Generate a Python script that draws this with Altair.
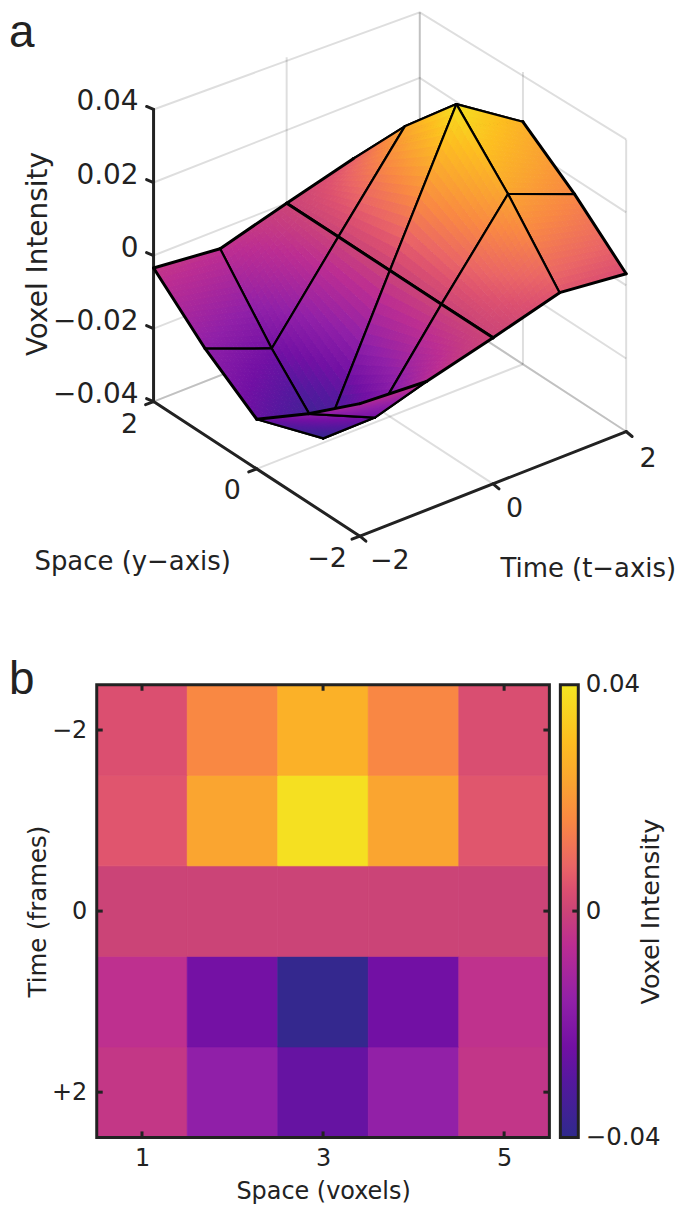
import altair as alt
import pandas as pd

# Surface heights, rows t=-2..2, columns y=2..-2
T_VALUES = [-2, -1, 0, 1, 2]
Y_VALUES = [2, 1, 0, -1, -2]
Z_T_M2 = [-0.0034, -0.0163, -0.0264, -0.0157, -0.0037]
Z_T_M1 = [-0.0053, -0.0234, -0.0388, -0.0239, -0.0048]
Z_T_0 = [0.0, 0.0, 0.0, 0.0, 0.0]
Z_T_P1 = [0.0050, 0.0231, 0.0384, 0.0230, 0.0052]
Z_T_P2 = [0.0038, 0.0160, 0.0264, 0.0158, 0.0032]
SURFACE = [Z_T_M2, Z_T_M1, Z_T_0, Z_T_P1, Z_T_P2]

# Colormap
CMAP_VALUES = [-0.04, -0.03, -0.024, -0.016, -0.006, 0.0, 0.004, 0.008, 0.016, 0.023, 0.03, 0.04]
CMAP_COLORS = ["#2f2a8c", "#55189e", "#7210a4", "#9120a8", "#bc2d92", "#cb4477",
               "#dc5070", "#ea6566", "#f98843", "#faa530", "#fdbe20", "#f3e621"]

Z_TICKS = [-0.04, -0.02, 0, 0.02, 0.04]
Z_TICK_LABELS = ["−0.04", "−0.02", "0", "0.02", "0.04"]
HEAT_X_TICKS = [1, 3, 5]
HEAT_Y_TICKS = [-2, 0, 2]

FONT = "DejaVu Sans"
INK = "#222222"
OX, OY = 96, 8          # page position of the panel a origin
W_A, H_A = 570, 648
W_B, H_B = 454, 454
W_BAR = 18


def project(t, y, z):
    """Orthographic view of the 3-D box, in panel pixels."""
    px = 360 + 66.75 * (t + 2) - 51.75 * (y + 2) - OX
    py = 535 - 26.25 * (t + 2) - 33.75 * (y + 2) - 3662.5 * (z + 0.04) - OY
    return [round(px, 2), round(max(py, 1.5), 2)]


def line_feature(points, width):
    return {"type": "Feature", "properties": {"w": width, "z": 0},
            "geometry": {"type": "LineString", "coordinates": points}}


# ---------- box: grid, walls, axes ----------
grid = []
for z in Z_TICKS:
    grid.append(line_feature([project(-2, 2, z), project(2, 2, z), project(2, -2, z)], 2))
for t in [-2, 0, 2]:
    grid.append(line_feature([project(t, 2, -0.04), project(t, 2, 0.04)], 2))
for y in [2, 0, -2]:
    grid.append(line_feature([project(2, y, -0.04), project(2, y, 0.04)], 2))
for t in [0, 2]:
    grid.append(line_feature([project(t, 2, -0.04), project(t, -2, -0.04)], 2))
for y in [2, 0]:
    grid.append(line_feature([project(-2, y, -0.04), project(2, y, -0.04)], 2))

axes = [
    line_feature([project(-2, 2, -0.04), project(-2, 2, 0.04)], 3),
    line_feature([project(-2, 2, -0.04), project(-2, -2, -0.04)], 3),
    line_feature([project(-2, -2, -0.04), project(2, -2, -0.04)], 3),
]
for z in Z_TICKS:
    a = project(-2, 2, z)
    axes.append(line_feature([a, [a[0] - 7, a[1] - 3]], 3))
for y in [2, 0, -2]:
    a = project(-2, y, -0.04)
    axes.append(line_feature([a, [a[0] - 8, a[1] + 3]], 3))
for t in [-2, 0, 2]:
    a = project(t, -2, -0.04)
    axes.append(line_feature([a, [a[0] + 6, a[1] + 5]], 3))

# ---------- surface, painted back to front, with interpolated shading ----------
N = 16
surface = []
for it in range(3, -1, -1):
    for iy in range(0, 4):
        t0, t1 = T_VALUES[it], T_VALUES[it + 1]
        y0, y1 = Y_VALUES[iy], Y_VALUES[iy + 1]
        z00, z01 = SURFACE[it][iy], SURFACE[it][iy + 1]
        z10, z11 = SURFACE[it + 1][iy], SURFACE[it + 1][iy + 1]

        def blend(u, v):
            z = (z00 * (1 - u) * (1 - v) + z01 * (1 - u) * v
                 + z10 * u * (1 - v) + z11 * u * v)
            return t0 + (t1 - t0) * u, y0 + (y1 - y0) * v, z

        for i in range(N - 1, -1, -1):
            for j in range(N):
                us = [i / N, (i + 1) / N]
                vs = [j / N, (j + 1) / N]
                ring = [project(*blend(us[0], vs[0])), project(*blend(us[1], vs[0])),
                        project(*blend(us[1], vs[1])), project(*blend(us[0], vs[1]))]
                ring.append(ring[0])
                zc = blend((i + 0.5) / N, (j + 0.5) / N)[2]
                surface.append({"type": "Feature", "properties": {"w": 1, "z": round(zc, 5)},
                                "geometry": {"type": "Polygon", "coordinates": [ring]}})
        for (ta, ya, za, tb, yb, zb) in [
            (t1, y0, z10, t1, y1, z11), (t0, y0, z00, t1, y0, z10),
            (t0, y1, z01, t1, y1, z11), (t0, y0, z00, t0, y1, z01),
        ]:
            thick = (ta == tb and ta in (0, -2, 2)) or (ya == yb and ya in (2, -2))
            surface.append(line_feature([project(ta, ya, za), project(tb, yb, zb)],
                                        3.0 if thick else 2.2))

identity = dict(type="identity", scale=1, translate=[0, 0])
color_scale = alt.Scale(domain=CMAP_VALUES, range=CMAP_COLORS, interpolate="rgb", clamp=True)

grid_layer = alt.Chart(alt.Data(values=grid)).mark_geoshape(
    fillOpacity=0, stroke="#000000", strokeOpacity=0.13, strokeWidth=2).project(**identity)
axes_layer = alt.Chart(alt.Data(values=axes)).mark_geoshape(
    fillOpacity=0, stroke=INK, strokeWidth=3, strokeCap="round").project(**identity)
is_line = "datum.properties.w > 1"
surface_layer = alt.Chart(alt.Data(values=surface)).mark_geoshape(
    strokeJoin="round", strokeCap="round").encode(
    fill=alt.condition(is_line, alt.value("transparent"),
                       alt.Fill("properties.z:Q", scale=color_scale, legend=None)),
    stroke=alt.condition(is_line, alt.value("#000000"),
                         alt.Stroke("properties.z:Q", scale=color_scale, legend=None)),
    strokeWidth=alt.StrokeWidth("properties.w:Q", scale=None),
).project(**identity)

# ---------- panel a texts (positions given on the page) ----------
px = alt.X("x:Q", scale=alt.Scale(domain=[-OX, W_A], range=[-OX, W_A], nice=False, zero=False), axis=None)
py = alt.Y("y:Q", scale=alt.Scale(domain=[H_A, 0], range=[H_A, 0], nice=False, zero=False), axis=None)

z_labels = pd.DataFrame({
    "x": [138 - OX] * 5,
    "y": [project(-2, 2, z)[1] - 7 for z in Z_TICKS],
    "text": Z_TICK_LABELS,
})
center_labels = pd.DataFrame({
    "x": [v - OX for v in [129, 232, 327, 390, 515, 649]],
    "y": [v - OY for v in [423, 490, 558, 560, 508, 458]],
    "text": ["2", "0", "−2", "−2", "0", "2"],
})
titles = pd.DataFrame({
    "x": [132 - OX, 589 - OX],
    "y": [561 - OY, 568 - OY],
    "text": ["Space (y−axis)", "Time (t−axis)"],
})

z_text = alt.Chart(z_labels).mark_text(align="right", baseline="middle", font=FONT,
                                       fontSize=28, color=INK).encode(x=px, y=py, text="text:N")
center_text = alt.Chart(center_labels).mark_text(align="center", baseline="middle", font=FONT,
                                                 fontSize=27, color=INK).encode(x=px, y=py, text="text:N")
title_text = alt.Chart(titles).mark_text(align="center", baseline="middle", font=FONT,
                                         fontSize=26, color=INK).encode(x=px, y=py, text="text:N")
z_title = alt.Chart(pd.DataFrame({"x": [38 - OX], "y": [252 - OY], "text": ["Voxel Intensity"]})).mark_text(
    align="center", baseline="middle", font=FONT, fontSize=28, color=INK, angle=270
).encode(x=px, y=py, text="text:N")
letter_a = alt.Chart(pd.DataFrame({"x": [-OX + 8], "y": [36], "text": ["a"]})).mark_text(
    align="left", baseline="alphabetic", font="Liberation Sans", fontSize=46, color=INK
).encode(x=px, y=py, text="text:N")

panel_a = alt.layer(grid_layer, axes_layer, surface_layer, z_text, center_text, title_text,
                    z_title, letter_a).resolve_scale(x="shared", y="shared").properties(
    width=W_A, height=H_A)

# ---------- panel b heat map ----------
rows = []
for it, t in enumerate(T_VALUES):
    for iy in range(5):
        rows.append({"x0": iy + 0.5, "x1": iy + 1.5, "y0": -t - 0.5, "y1": -t + 0.5,
                     "v": SURFACE[it][iy]})
heat_df = pd.DataFrame(rows)
hx_scale = alt.Scale(domain=[0.5, 5.5], nice=False, zero=False)
hy_scale = alt.Scale(domain=[-2.5, 2.5], nice=False, zero=False, reverse=True)
TITLE = dict(titleFont=FONT, titleFontWeight="normal", titleColor=INK, titleBaseline="middle", titleAlign="center")

heat = alt.Chart(heat_df).mark_rect(strokeWidth=0.8).encode(
    x=alt.X("x0:Q", scale=hx_scale, axis=alt.Axis(
        values=HEAT_X_TICKS, ticks=False, domain=False, grid=False, title="Space (voxels)",
        format="d", labelFont=FONT, labelFontSize=24, labelColor=INK, labelPadding=9, labelAngle=0,
        titleFontSize=24, titleX=227, titleY=54, **TITLE)),
    x2="x1:Q",
    y=alt.Y("y0:Q", scale=hy_scale, axis=alt.Axis(
        values=HEAT_Y_TICKS, ticks=False, domain=False, grid=False, title="Time (frames)",
        labelExpr="datum.value == 0 ? '0' : datum.value < 0 ? '−2' : '+2'",
        labelFont=FONT, labelFontSize=24, labelColor=INK, labelPadding=10,
        titleFontSize=24.5, titleX=-58, titleY=227, titleAngle=270, **TITLE)),
    y2="y1:Q",
    color=alt.Color("v:Q", scale=color_scale, legend=None),
    stroke=alt.Stroke("v:Q", scale=color_scale, legend=None),
)


def y_ticks(a, b, data):
    return alt.Chart(pd.DataFrame({"v": data})).mark_rule(color=INK, strokeWidth=3).encode(
        y=alt.Y("v:Q", scale=hy_scale), x=alt.value(a), x2=alt.value(b))


def x_ticks(a, b, data):
    return alt.Chart(pd.DataFrame({"v": data})).mark_rule(color=INK, strokeWidth=3).encode(
        x=alt.X("v:Q", scale=hx_scale), y=alt.value(a), y2=alt.value(b))


def frame(w, h):
    return alt.Chart(pd.DataFrame({"f": [0]})).mark_rect(
        fillOpacity=0, stroke=INK, strokeWidth=3).encode(
        x=alt.value(0), x2=alt.value(w), y=alt.value(0), y2=alt.value(h))


letter_b = alt.Chart(pd.DataFrame({"t": ["b"]})).mark_text(
    align="left", baseline="alphabetic", font="Liberation Sans", fontSize=46, color=INK
).encode(x=alt.value(-OX + 8), y=alt.value(9), text="t:N")

heat_panel = alt.layer(
    heat,
    y_ticks(0, 6, HEAT_Y_TICKS), y_ticks(W_B - 6, W_B, HEAT_Y_TICKS),
    x_ticks(0, 6, HEAT_X_TICKS), x_ticks(H_B - 6, H_B, HEAT_X_TICKS),
    frame(W_B, H_B), letter_b,
).properties(width=W_B, height=H_B)

# ---------- colour bar ----------
lo, hi = CMAP_VALUES[0], CMAP_VALUES[-1]
stops = [alt.GradientStop(color=c, offset=(v - lo) / (hi - lo)) for v, c in zip(CMAP_VALUES, CMAP_COLORS)]
bar_scale = alt.Scale(domain=[lo, hi], nice=False, zero=False)
bar = alt.Chart(pd.DataFrame({"a": [lo], "b": [hi]})).mark_rect(
    fill=alt.LinearGradient(gradient="linear", stops=stops, x1=0, x2=0, y1=1, y2=0)
).encode(
    x=alt.value(0), x2=alt.value(W_BAR),
    y=alt.Y("a:Q", scale=bar_scale, axis=alt.Axis(
        orient="right", values=[lo, 0, hi], ticks=False, domain=False, grid=False,
        title="Voxel Intensity",
        labelExpr="datum.value == 0 ? '0' : datum.value < 0 ? '−0.04' : '0.04'",
        labelFont=FONT, labelFontSize=24.5, labelColor=INK, labelPadding=7, labelBound=False,
        labelFlush=False,
        titleFontSize=25.5, titleX=72, titleY=227, titleAngle=270, **TITLE)),
    y2="b:Q",
)
bar_tick = alt.Chart(pd.DataFrame({"v": [0]})).mark_rule(color=INK, strokeWidth=3).encode(
    y=alt.Y("v:Q", scale=bar_scale), x=alt.value(W_BAR - 6), x2=alt.value(W_BAR))
bar_panel = alt.layer(bar, bar_tick, frame(W_BAR, H_B)).properties(width=W_BAR, height=H_B)

chart = alt.vconcat(
    panel_a,
    alt.hconcat(heat_panel, bar_panel, spacing=7),
    spacing=0,
).properties(padding=0, background="white").configure_view(stroke=None)

chart.save("out.html", embed_options={"renderer": "svg", "actions": False})
